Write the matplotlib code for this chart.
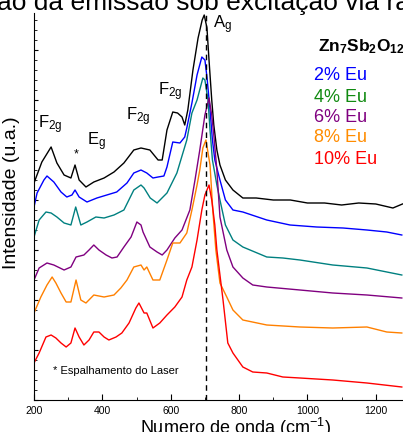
import matplotlib
matplotlib.use("Agg")
import matplotlib.pyplot as plt
from matplotlib.ticker import MultipleLocator, NullFormatter

plt.rcParams['font.family'] = ['Liberation Sans', 'DejaVu Sans']
plt.rcParams['mathtext.fontset'] = 'custom'
plt.rcParams['mathtext.rm'] = 'Liberation Sans'
plt.rcParams['mathtext.it'] = 'Liberation Sans'
plt.rcParams['mathtext.bf'] = 'Liberation Sans:bold'

# ---- data (wavenumber cm^-1, intensity a.u. incl. vertical offset) ----
wn_black = [200, 223, 250, 267, 288, 308, 320, 332, 352, 375, 405, 434, 463, 492, 513, 539, 563,
            575, 589, 606, 620, 633, 641, 650, 665, 680, 692, 698, 706, 712, 720, 726, 735, 744,
            760, 782, 811, 850, 900, 950, 1000, 1050, 1100, 1150, 1200, 1250, 1278]
i_black = [217, 238, 253, 237, 225, 222, 235, 220, 213, 218, 222, 228, 237, 250, 252, 250, 240,
           240, 270, 288, 287, 283, 275, 290, 330, 362, 380, 385, 372, 340, 300, 275, 250, 235,
           220, 210, 202, 202, 200, 200, 197, 197, 195, 197, 196, 192, 196]

wn_blue = [200, 209, 229, 238, 258, 279, 296, 311, 320, 332, 355, 384, 413, 442, 472, 492, 513,
           530, 548, 563, 580, 589, 606, 627, 641, 647, 662, 677, 691, 700, 706, 715, 722, 729,
           744, 760, 782, 811, 881, 949, 1027, 1104, 1174, 1232, 1276]
i_blue = [193, 207, 220, 224, 218, 208, 203, 205, 210, 203, 198, 202, 205, 208, 217, 227, 230,
          227, 222, 223, 224, 233, 258, 257, 263, 272, 297, 325, 343, 340, 323, 290, 260, 240,
          220, 200, 190, 188, 180, 175, 173, 172, 170, 168, 165]

wn_teal = [200, 215, 235, 250, 267, 288, 308, 322, 337, 355, 381, 405, 434, 463, 492, 513, 522,
           540, 560, 589, 618, 647, 662, 677, 694, 700, 709, 715, 722, 735, 744, 760, 782, 811,
           881, 928, 978, 1074, 1174, 1276]
i_teal = [163, 180, 188, 187, 183, 177, 175, 193, 175, 178, 183, 182, 185, 190, 210, 215, 212,
          202, 197, 207, 227, 260, 287, 300, 322, 320, 300, 270, 240, 215, 200, 175, 160, 153,
          143, 142, 140, 135, 132, 125]

wn_purple = [200, 215, 238, 258, 288, 308, 323, 346, 361, 375, 390, 411, 428, 443, 463, 484, 492,
             501, 513, 519, 539, 560, 575, 589, 612, 633, 656, 671, 685, 700, 712, 720, 726, 735,
             744, 764, 782, 811, 840, 881, 978, 1074, 1174, 1276]
i_purple = [120, 132, 137, 135, 130, 133, 143, 145, 150, 155, 150, 145, 142, 143, 153, 163, 170,
            178, 175, 168, 153, 148, 145, 150, 162, 170, 190, 220, 250, 285, 302, 285, 265, 230,
            183, 150, 133, 122, 115, 113, 110, 107, 105, 102]

wn_orange = [200, 220, 238, 253, 264, 279, 294, 308, 323, 337, 352, 375, 405, 434, 454, 472, 492,
             513, 522, 530, 548, 568, 589, 606, 627, 647, 662, 677, 685, 694, 703, 715, 723, 732,
             744, 764, 782, 811, 881, 978, 1074, 1174, 1232, 1276]
i_orange = [87, 103, 115, 123, 117, 107, 98, 98, 120, 100, 97, 105, 103, 105, 112, 120, 133,
            135, 130, 133, 120, 120, 140, 157, 157, 167, 190, 215, 230, 252, 260, 235, 190, 150,
            117, 103, 90, 80, 75, 73, 72, 73, 68, 67]

wn_red = [200, 215, 235, 250, 264, 279, 294, 308, 320, 332, 346, 361, 375, 390, 405, 419, 440,
          457, 478, 498, 507, 522, 530, 548, 568, 589, 612, 633, 647, 662, 677, 691, 700, 712,
          720, 729, 735, 753, 767, 782, 811, 840, 881, 928, 978, 1074, 1174, 1276]
i_red = [37, 47, 63, 65, 62, 57, 53, 57, 72, 63, 55, 60, 68, 68, 63, 60, 63,
         67, 77, 92, 97, 87, 87, 72, 77, 85, 93, 103, 120, 133, 160, 190, 205, 215,
         200, 175, 150, 100, 57, 47, 33, 28, 27, 23, 22, 20, 17, 13]

laser_line = 703

series = [
    (wn_black, i_black, '#000000'),
    (wn_blue, i_blue, '#0000ff'),
    (wn_teal, i_teal, '#008080'),
    (wn_purple, i_purple, '#800080'),
    (wn_orange, i_orange, '#ff8000'),
    (wn_red, i_red, '#ff0000'),
]

legend_labels = ['2% Eu', '4% Eu', '6% Eu', '8% Eu', '10% Eu']
legend_colors = ['#0000ff', '#108a10', '#800080', '#ff8c00', '#ff0000']

W, H = 403, 432
fig = plt.figure(figsize=(W / 100, H / 100), dpi=100)
ax = fig.add_axes([34 / W, 32 / H, 376 / W, 387 / H])

for x, y, c in series:
    ax.plot(x, y, color=c, lw=1.0)

ax.axvline(laser_line, color='black', ls=(0, (4, 3)), lw=1.0)

ax.set_xlim(200, 1300)
ax.set_ylim(0, 387)

ax.spines['top'].set_visible(False)
ax.spines['right'].set_visible(False)

ax.xaxis.set_major_locator(MultipleLocator(200))
ax.xaxis.set_minor_locator(MultipleLocator(100))
ax.yaxis.set_major_locator(MultipleLocator(50))
ax.yaxis.set_minor_locator(MultipleLocator(10))
ax.yaxis.set_major_formatter(NullFormatter())
ax.tick_params(axis='both', which='major', direction='in', length=4, width=0.8)
ax.tick_params(axis='both', which='minor', direction='in', length=2, width=0.6)
ax.tick_params(axis='y', which='major', length=3)
ax.tick_params(axis='x', labelsize=7.5, pad=4)
ax.tick_params(axis='y', which='both', left=True, right=False)

ax.set_xlabel(r'Numero de onda (cm$^{-1}$)', fontsize=13)
ax.xaxis.set_label_coords(0.535, -0.04)
ax.xaxis.label.set_va('top')
ax.set_ylabel('Intensidade (u.a.)', fontsize=14)
ax.yaxis.set_label_coords(-0.038, 0.535)

# peak annotations
ax.text(212, 272, r'F$_{2g}$', fontsize=12, va='baseline')
ax.text(323, 246, '*', fontsize=9, ha='center', va='center')
ax.text(355, 255, r'E$_{g}$', fontsize=12, va='baseline')
ax.text(469, 280, r'F$_{2g}$', fontsize=12, va='baseline')
ax.text(563, 305, r'F$_{2g}$', fontsize=12, va='baseline')
ax.text(723, 372, r'A$_{g}$', fontsize=12, va='baseline')

ax.text((53 - 34) / 376, (400 - 371) / 387, '* Espalhamento do Laser', fontsize=8,
        transform=ax.transAxes, ha='left', va='center')

# composition legend
fig.text(318 / W, 1 - 51 / H, r'$\mathbf{Zn_7Sb_2O_{12}}$', fontsize=12.5, ha='left', va='baseline')
legend_y = [75, 97, 118, 138, 159]
for lab, col, yy in zip(legend_labels, legend_colors, legend_y):
    fig.text(314 / W, 1 - yy / H, lab, color=col, fontsize=13, ha='left', va='center')

# cropped title
fig.text(-3 / W, 1 - 10 / H, 'ão da emissão sob excitação via raman', fontsize=19,
         ha='left', va='baseline')

fig.savefig('out.png', dpi=100)
